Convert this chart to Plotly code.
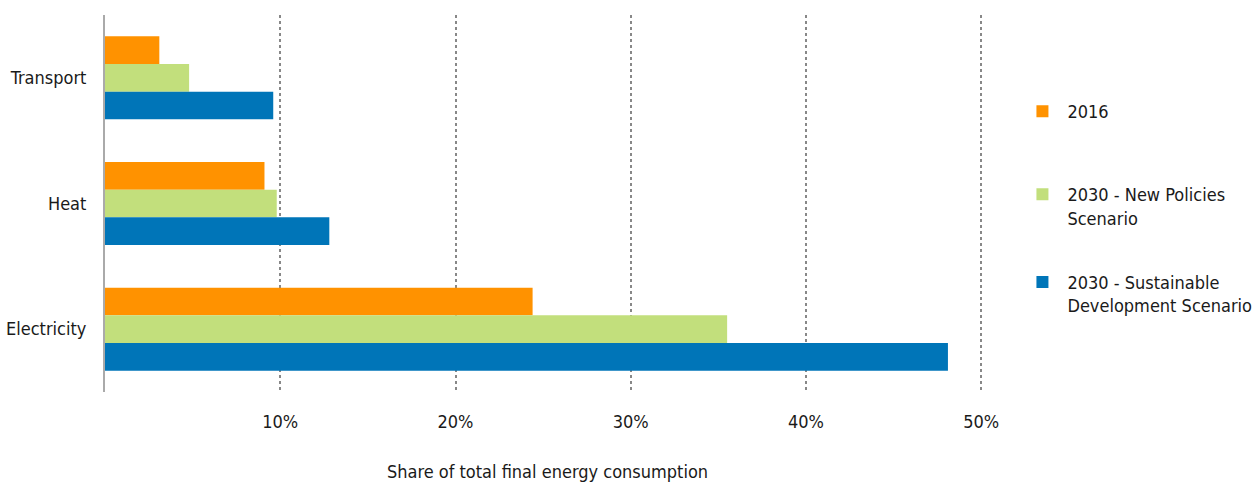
import plotly.graph_objects as go

categories = ["Transport", "Heat", "Electricity"]
series_names = ["2016", "2030 - New Policies<br>Scenario", "2030 - Sustainable<br>Development Scenario"]
v_2016 = [3.1, 9.1, 24.4]
v_nps = [4.8, 9.8, 35.5]
v_sds = [9.6, 12.8, 48.1]
colors = ["#FF9200", "#C2DF7C", "#0075B8"]

font_family = "DejaVu Sans Condensed"
legend_ids = ["legend", "legend2", "legend3"]
legend_y = [0.793, 0.573, 0.34]

fig = go.Figure()
for name, vals, col, lg in zip(series_names, [v_2016, v_nps, v_sds], colors, legend_ids):
    fig.add_trace(go.Bar(y=categories, x=vals, name=name, orientation="h",
                         marker=dict(color=col, line=dict(width=0)),
                         legend=lg, showlegend=True))

legend_style = dict(x=1.031, xanchor="left", yanchor="top", font=dict(size=18),
                    valign="top", itemwidth=40, bgcolor="rgba(0,0,0,0)")

fig.update_layout(
    showlegend=True,
    barmode="group",
    bargap=0.34,
    bargroupgap=0,
    width=1252, height=487,
    margin=dict(l=105, r=262, t=15, b=95, autoexpand=False),
    plot_bgcolor="white", paper_bgcolor="white",
    font=dict(family=font_family, size=18, color="#1a1a1a"),
    legend=dict(y=legend_y[0], **legend_style),
    legend2=dict(y=legend_y[1], **legend_style),
    legend3=dict(y=legend_y[2], **legend_style),
)
fig.update_xaxes(range=[0, 50.5], tickvals=[10, 20, 30, 40, 50],
                 ticktext=["10%", "20%", "30%", "40%", "50%"],
                 tickfont=dict(size=18), ticklabelstandoff=17,
                 showgrid=True, gridcolor="#888888", griddash="dot", gridwidth=1.5,
                 zeroline=False, showline=False, ticks="", ticklen=0, automargin=False,
                 title=dict(text="Share of total final energy consumption", standoff=34,
                            font=dict(size=18)))
fig.update_yaxes(autorange="reversed", showline=True, linecolor="#aaaaaa", linewidth=2,
                 showgrid=False, ticks="", ticklabelstandoff=13, automargin=False,
                 tickfont=dict(size=18))

# the page's default body margin would shift the figure by 8px
fig.write_html("out.html", config={"displayModeBar": False},
               post_script="document.body.style.margin='0';")
